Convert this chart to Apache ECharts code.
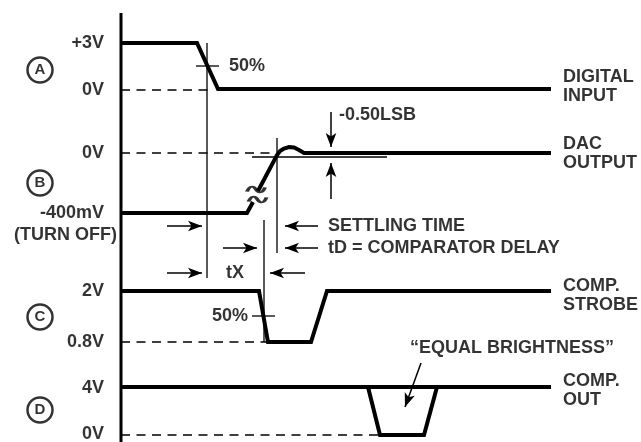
<!DOCTYPE html>
<html><head><meta charset="utf-8">
<script src="https://cdn.jsdelivr.net/npm/echarts@6/dist/echarts.min.js"></script>
<style>html,body{margin:0;padding:0;background:#fff}#c{width:641px;height:442px}</style>
</head><body><div id="c"></div>
<script>
// Waveform vertices (diagram units: x = time position, y = vertical diagram position)
const waveA = [[121,43],[197,43],[218,89],[551,89]];
const waveB1 = [[121,213],[247,213],[253,202]];
const waveB2 = [[258,191],[277,155],[280,151],[284,148.5],[289,147],[294,147.5],[299,150],[304,153],[551,153]];
const waveC = [[121,291],[259,291],[268,342],[311,342],[327,291],[551,291]];
const waveD = [[121,387],[551,387]];
const pulseD = [[368,387],[380,435],[424,435],[437,387]];
const axisLine = [[121,13],[121,442]];
const zeroLines = [[[121,90],[213,90]],[[121,153],[275,153]],[[121,342],[268,342]],[[121,435],[378,435]]];
const guideLines = [[[207,43],[207,278]],[[277,138],[277,253]],[[264,220],[264,342]],[[196,66],[219,66]],[[252,316],[275,316]],[[252,157],[387,157]]];
const arrows = [[[167,226],[202,226]],[[318,226],[285,226]],[[223,248],[257,248]],[[318,248],[285,248]],[[167,273],[202,273]],[[305,273],[270,273]],[[331,112],[331,147]],[[331,199],[331,163]],[[421,363],[405,407]]];
const levelLabels = ['+3V','0V','0V','-400mV','(TURN OFF)','2V','0.8V','4V','0V'];
const levelPos = [[104,43],[104,90],[104,153],[104,213],[117,235],[104,291],[104,342],[104,388],[104,434]];
const signalNames = ['DIGITAL\nINPUT','DAC\nOUTPUT','COMP.\nSTROBE','COMP.\nOUT'];
const signalPos = [[563,87],[563,154],[563,296],[563,391]];
const notes = ['50%','-0.50LSB','SETTLING TIME','tD = COMPARATOR DELAY','tX','50%','\u201CEQUAL BRIGHTNESS\u201D'];
const notePos = [[229,66],[339,115],[328,226],[328,248],[235,273],[248,316],[512,348]];
const noteAlign = ['left','left','left','left','center','right','center'];
const circleLetters = ['A','B','C','D'];
const circlePos = [[40,70],[40,183],[40,317],[40,410]];
const breakMarks = [[256,189.5],[257.5,199.5]];

const FONT = '"Liberation Sans", Arial, Helvetica, sans-serif';
const thick = (d) => ({type:'line', data:d, symbol:'none', silent:true, animation:false, lineStyle:{color:'#000', width:4, join:'miter'}});
const thin = (d, dashed) => ({type:'line', data:d, symbol:'none', silent:true, animation:false, lineStyle:{color:'#000', width:1.3, type: dashed ? [9,6.5] : 'solid'}});

const series = [];
series.push(Object.assign(thick(axisLine), {lineStyle:{color:'#000', width:3}}));
zeroLines.forEach(s => series.push(thin(s, true)));
guideLines.forEach(s => series.push(thin(s, false)));
[waveA, waveB1, waveB2, waveC, waveD, pulseD].forEach(w => series.push(thick(w)));
series.push({
  type:'line', data:[], symbol:'none', silent:true, animation:false,
  markLine:{silent:true, animation:false, symbol:['none','arrow'], symbolSize:[8,14], precision:2,
    lineStyle:{color:'#000', width:1.5, type:'solid'}, label:{show:false},
    data: arrows.map(a => [{coord:a[0]},{coord:a[1]}])}
});
series.push({
  type:'scatter', silent:true, animation:false,
  symbol:'path://M0,6 C3,0 7,0 10,4 C13,8 17,8 20,2',
  symbolSize:[18,6], itemStyle:{color:'rgba(0,0,0,0)', borderColor:'#000', borderWidth:2.3},
  data: breakMarks
});
series.push({
  type:'scatter', silent:true, animation:false, symbol:'circle', symbolSize:25,
  itemStyle:{color:'#fff', borderColor:'#000', borderWidth:2.5},
  label:{show:true, position:'inside', formatter:p=>p.name, color:'#000', fontFamily:FONT, fontWeight:'bold', fontSize:15},
  data: circleLetters.map((n,i)=>({name:n, value:circlePos[i]}))
});
const textSeries = (names, pos, align, extra) => ({
  type:'scatter', silent:true, animation:false, symbolSize:0,
  label:Object.assign({show:true, position:'inside', formatter:p=>p.name, color:'#000', fontFamily:FONT, fontWeight:'bold', fontSize:18, verticalAlign:'middle'}, extra||{}),
  data: names.map((n,i)=>({name:n, value:pos[i], label:{align: Array.isArray(align)?align[i]:align}}))
});
series.push(textSeries(levelLabels, levelPos, 'right'));
series.push(textSeries(signalNames, signalPos, 'left', {lineHeight:19}));
series.push(textSeries(notes, notePos, noteAlign));

const chart = echarts.init(document.getElementById('c'), null, {renderer:'canvas'});
chart.setOption({
  backgroundColor:'#fff',
  animation:false,
  grid:{left:0, right:0, top:0, bottom:0},
  xAxis:{type:'value', min:0, max:641, show:false},
  yAxis:{type:'value', min:0, max:442, inverse:true, show:false},
  series: series
});
</script></body></html>
